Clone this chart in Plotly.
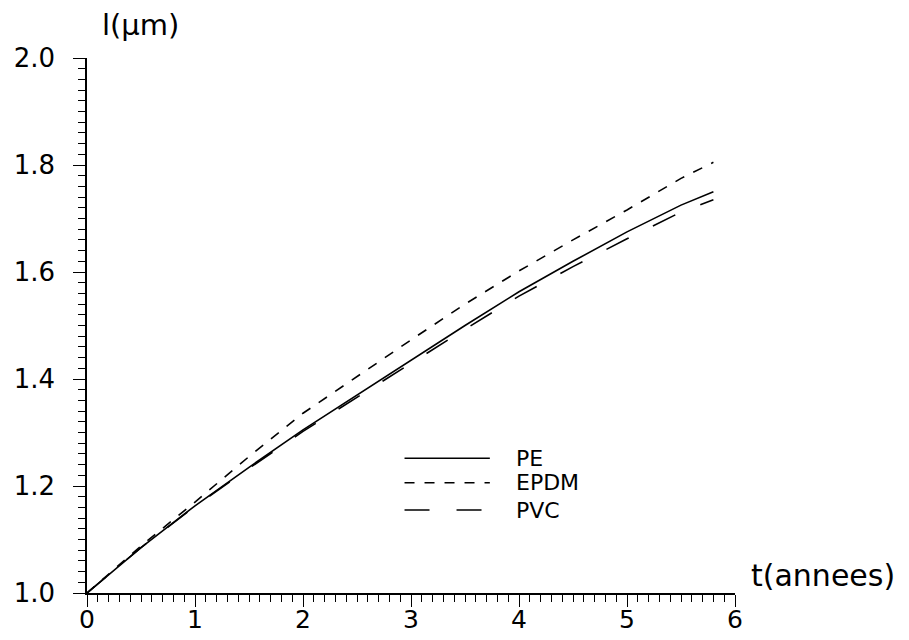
import plotly.graph_objects as go

# Time in years and layer thickness l (µm) for each polymer
t_years = [0, 0.5, 1, 1.5, 2, 2.5, 3, 3.5, 4, 4.5, 5, 5.5, 5.8]
l_pe = [1.0, 1.085, 1.163, 1.235, 1.305, 1.37, 1.434, 1.5, 1.563, 1.62, 1.675, 1.725, 1.75]
l_epdm = [1.0, 1.088, 1.170, 1.255, 1.336, 1.405, 1.473, 1.54, 1.602, 1.66, 1.716, 1.775, 1.805]
l_pvc = [1.0, 1.085, 1.162, 1.233, 1.302, 1.366, 1.43, 1.493, 1.555, 1.61, 1.662, 1.712, 1.735]

series_names = ["PE", "EPDM", "PVC"]
x_ticks = [0, 1, 2, 3, 4, 5, 6]
y_ticks = [1.0, 1.2, 1.4, 1.6, 1.8, 2.0]

FONT = "DejaVu Sans"
styles = {
    "PE": dict(color="black", width=1.6, dash="solid"),
    "EPDM": dict(color="black", width=1.6, dash="10px,10px"),
    "PVC": dict(color="black", width=1.6, dash="25px,27px"),
}

fig = go.Figure()
for name, ys in zip(series_names, [l_pe, l_epdm, l_pvc]):
    fig.add_trace(go.Scatter(x=t_years, y=ys, mode="lines", name=name,
                             line=styles[name], showlegend=False))

# Hand-drawn key: long line samples with labels to their right
key_y = [1.252, 1.206, 1.155]
key_x0, key_x1, key_tx = 2.94, 3.73, 3.96
for name, ky in zip(series_names, key_y):
    fig.add_shape(type="line", x0=key_x0, x1=key_x1, y0=ky, y1=ky,
                  xref="x", yref="y", line=styles[name])
    fig.add_annotation(x=key_tx, y=ky, xref="x", yref="y", text=name,
                       showarrow=False, xanchor="left", yanchor="middle",
                       borderpad=0,
                       font=dict(family=FONT, size=22, color="black"))

# Axis titles placed at the axis ends
fig.add_annotation(x=0.082, y=1.0, xref="paper", yref="paper", text="l(µm)",
                   showarrow=False, xanchor="center", yanchor="bottom", yshift=14,
                   font=dict(family=FONT, size=29, color="black"))
fig.add_annotation(x=1.0, y=0.0, xref="paper", yref="paper", text="t(annees)",
                   showarrow=False, xanchor="left", yanchor="bottom", xshift=14, yshift=-2,
                   font=dict(family=FONT, size=30, color="black"))

fig.update_xaxes(range=[0, 6], tickvals=x_ticks, ticktext=[str(v) for v in x_ticks],
                 showline=True, linecolor="black", linewidth=1.6,
                 ticks="outside", ticklen=12, tickwidth=1.4, tickcolor="black",
                 minor=dict(dtick=0.1, ticks="outside", ticklen=7, tickwidth=1.2, tickcolor="black"),
                 showgrid=False, zeroline=False, automargin=False, ticklabelstandoff=-9,
                 tickfont=dict(family=FONT, size=25, color="black"))
fig.update_yaxes(range=[1.0, 2.0], tickvals=y_ticks, ticktext=[f"{v:.1f}" for v in y_ticks],
                 showline=True, linecolor="black", linewidth=1.6,
                 ticks="outside", ticklen=12, tickwidth=1.4, tickcolor="black",
                 minor=dict(dtick=0.02, ticks="outside", ticklen=7, tickwidth=1.2, tickcolor="black"),
                 showgrid=False, zeroline=False, ticklabelstandoff=13, automargin=False,
                 tickfont=dict(family=FONT, size=26, color="black"))

fig.update_layout(width=909, height=640, paper_bgcolor="white", plot_bgcolor="white",
                  margin=dict(l=87, r=174, t=58, b=47), showlegend=False)

fig.write_html("out.html")
